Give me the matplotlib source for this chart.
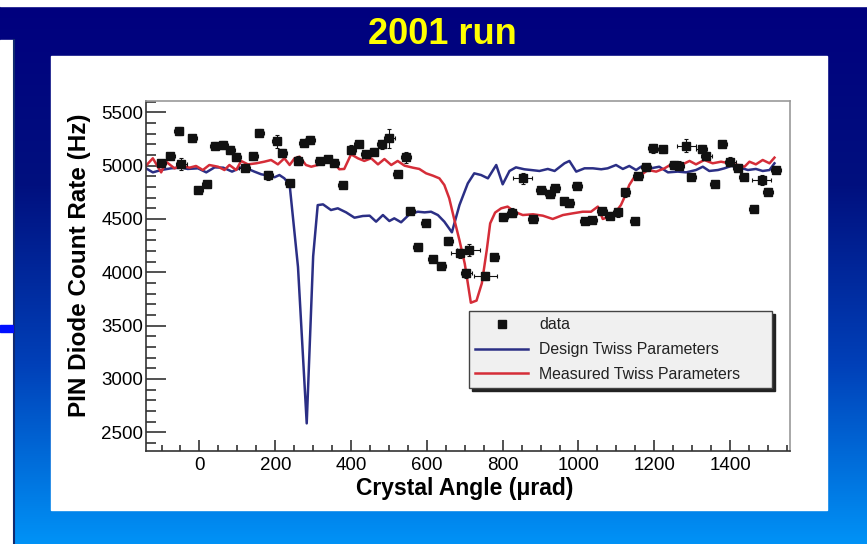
import matplotlib
matplotlib.use("Agg")
import matplotlib.pyplot as plt
import numpy as np
from matplotlib.colors import LinearSegmentedColormap
from matplotlib.lines import Line2D
from matplotlib.patches import Rectangle
from matplotlib.ticker import MultipleLocator

plt.rcParams['font.family'] = ['Liberation Sans', 'DejaVu Sans']

# PIN diode scan, 2001 run
angle = [-101, -77, -55, -48, -19, -3, 19, 40, 63, 81, 97, 119, 142, 158, 181, 204,
         218, 238, 261, 275, 292, 317, 339, 356, 378, 400, 420, 439, 460, 481, 501,
         523, 545, 556, 576, 597, 616, 638, 657, 688, 704, 710, 754, 778, 801, 825,
         853, 880, 901, 925, 938, 963, 976, 996, 1016, 1036, 1062, 1082, 1104, 1124,
         1148, 1157, 1178, 1196, 1222, 1253, 1264, 1284, 1297, 1325, 1337, 1360, 1379,
         1401, 1420, 1436, 1462, 1484, 1500, 1521]
rate = [5022, 5093, 5325, 5015, 5256, 4772, 4825, 5187, 5193, 5147, 5081, 4981, 5087,
        5309, 4909, 5228, 5118, 4834, 5046, 5215, 5240, 5046, 5062, 5028, 4818, 5150,
        5200, 5106, 5131, 5200, 5256, 4922, 5078, 4575, 4234, 4467, 4125, 4059, 4295,
        4178, 3991, 4209, 3965, 4141, 4514, 4560, 4881, 4500, 4772, 4734, 4787, 4671,
        4647, 4812, 4481, 4490, 4575, 4531, 4562, 4750, 4481, 4903, 4984, 5162, 5153,
        5006, 5000, 5187, 4897, 5156, 5090, 4828, 5203, 5037, 4981, 4891, 4591, 4865,
        4756, 4959]
angle_err = [12, 12, 12, 14, 12, 12, 12, 12, 12, 12, 12, 14, 12, 12, 12, 12,
             12, 12, 12, 12, 14, 12, 12, 12, 12, 12, 12, 14, 12, 12, 14,
             12, 12, 12, 12, 12, 12, 12, 12, 25, 15, 30, 30, 12, 12, 14,
             25, 12, 12, 14, 12, 12, 12, 12, 12, 12, 12, 12, 12, 12,
             12, 12, 12, 12, 12, 14, 14, 25, 12, 14, 14, 12, 12,
             14, 12, 12, 12, 25, 12, 12]
rate_err = [30, 30, 40, 60, 30, 30, 30, 35, 35, 35, 35, 30, 30, 35, 40, 60,
            40, 35, 40, 30, 40, 30, 30, 30, 30, 40, 35, 35, 30, 40, 90,
            30, 50, 30, 30, 30, 30, 30, 40, 40, 40, 60, 40, 30, 30, 40,
            50, 30, 30, 35, 30, 30, 30, 30, 30, 30, 30, 30, 40, 40,
            30, 30, 30, 40, 35, 40, 40, 60, 30, 40, 40, 30, 30,
            40, 30, 30, 30, 50, 30, 30]

# simulated count rate for design and measured Twiss parameters
design_angle = [-141, -123, -101, -75, -48, -31, -4, 18, 40, 63, 86, 114, 145, 163, 183,
                198, 211, 224, 238, 260, 283, 300, 312, 326, 347, 365, 387, 409, 431,
                449, 466, 484, 501, 514, 532, 554, 576, 594, 611, 629, 646, 666, 686,
                708, 725, 743, 761, 783, 800, 818, 835, 857, 875, 897, 919, 937, 963,
                976, 994, 1016, 1038, 1060, 1077, 1099, 1117, 1134, 1152, 1165, 1191,
                1213, 1236, 1262, 1284, 1310, 1328, 1345, 1368, 1385, 1403, 1424, 1447,
                1468, 1486, 1504, 1517]
design_rate = [4975, 4937, 4959, 4975, 4981, 4969, 4975, 4937, 4984, 4981, 4944, 4990,
               4944, 4919, 4906, 4891, 4912, 4881, 4819, 4050, 2584, 4150, 4630, 4637,
               4584, 4600, 4562, 4512, 4528, 4531, 4475, 4537, 4481, 4506, 4469, 4544,
               4568, 4562, 4568, 4537, 4475, 4375, 4631, 4834, 4928, 4912, 4881, 5006,
               4825, 4950, 4984, 4966, 4959, 4950, 4969, 4950, 5022, 5044, 4944, 4975,
               4975, 4966, 4975, 5006, 4969, 4997, 4959, 4990, 4975, 4990, 4937, 4944,
               4937, 4959, 4990, 4950, 4959, 4975, 4997, 4984, 4959, 4969, 4950, 4959,
               5022]
measured_angle = [-141, -123, -101, -88, -66, -48, -26, -9, 9, 26, 49, 66, 79, 97, 110,
                  128, 150, 171, 189, 207, 224, 238, 251, 264, 281, 295, 312, 334, 352,
                  369, 382, 400, 418, 435, 453, 471, 488, 506, 523, 541, 563, 580, 598,
                  616, 633, 646, 659, 672, 686, 700, 716, 731, 745, 758, 767, 780, 796,
                  813, 831, 853, 880, 906, 932, 959, 985, 1011, 1033, 1051, 1064, 1082,
                  1099, 1112, 1124, 1134, 1148, 1165, 1183, 1205, 1227, 1249, 1271, 1293,
                  1310, 1332, 1354, 1376, 1398, 1420, 1438, 1451, 1468, 1486, 1504, 1517]
measured_rate = [5000, 5069, 4937, 5037, 4975, 5000, 4981, 4997, 4959, 5006, 4990, 4959,
                 5006, 4959, 5044, 5012, 5022, 5037, 5053, 5012, 5069, 5006, 5069, 5084,
                 5006, 4990, 5006, 5031, 5044, 4966, 4969, 5106, 5069, 5044, 5069, 5012,
                 5062, 5006, 5044, 5000, 4981, 4969, 4928, 4906, 4881, 4819, 4694, 4500,
                 4300, 4080, 3715, 3735, 3897, 4209, 4459, 4560, 4600, 4616, 4568, 4537,
                 4544, 4531, 4500, 4537, 4553, 4568, 4568, 4616, 4500, 4522, 4568, 4631,
                 4725, 4819, 4897, 4912, 4959, 4944, 4975, 5022, 5006, 5044, 5012, 5053,
                 5022, 5037, 5022, 5006, 4990, 5037, 5012, 5053, 5022, 5075]

W, H = 867, 544
fig = plt.figure(figsize=(W / 100, H / 100), dpi=100)

# slide background, drawn in pixel units
bg = fig.add_axes([0, 0, 1, 1])
bg.set_xlim(0, W)
bg.set_ylim(H, 0)
bg.axis('off')
cmap = LinearSegmentedColormap.from_list('slide', ['#00007e', '#00107f', '#0040b8', '#0092f6'])
grad = np.linspace(0, 1, 256).reshape(-1, 1)
bg.imshow(grad, cmap=cmap, extent=[0, W, H, 6], aspect='auto', zorder=0)
bg.add_patch(Rectangle((0, 0), W, 6, color='white', zorder=1))
bg.add_patch(Rectangle((0, 40), 13, H - 40, color='white', zorder=1))
bg.plot([14, 14], [40, H], color='#102a70', lw=1.5, zorder=2)
bg.add_patch(Rectangle((0, 325), 13, 7, color='#0010ff', zorder=2))
bg.add_patch(Rectangle((51, 56), 776, 454, color='white', zorder=1))
bg.text(442, 34, '2001 run', color='#ffff00', fontsize=26, fontweight='bold',
        ha='center', va='center')

ax = fig.add_axes([146 / W, 93 / H, 644 / W, 350 / H])
ax.set_xlim(-141, 1558)
ax.set_ylim(2325, 5606)

design_line, = ax.plot(design_angle, design_rate, color='#2b2f85', lw=1.8, zorder=2)
measured_line, = ax.plot(measured_angle, measured_rate, color='#d52d38', lw=1.8, zorder=2)
ax.errorbar(angle, rate, xerr=angle_err, yerr=rate_err, fmt='s', color='#111111',
            ms=6, elinewidth=0.8, capsize=1.5, capthick=0.8, zorder=3)

ax.xaxis.set_major_locator(MultipleLocator(200))
ax.xaxis.set_minor_locator(MultipleLocator(50))
ax.yaxis.set_major_locator(MultipleLocator(500))
ax.yaxis.set_minor_locator(MultipleLocator(100))
ax.tick_params(which='both', direction='in', top=False, right=False,
               labelsize=13.5, color='#222222', width=1.1)
ax.tick_params(axis='y', which='major', length=14.4, pad=2)
ax.tick_params(axis='y', which='minor', length=7.2)
ax.tick_params(axis='x', which='major', length=8, pad=4)
ax.tick_params(axis='x', which='minor', length=4.3)
for side in ('left', 'bottom'):
    ax.spines[side].set_color('#333333')
    ax.spines[side].set_linewidth(1.2)
for side in ('top', 'right'):
    ax.spines[side].set_color('#999999')
    ax.spines[side].set_linewidth(1.2)

ax.set_xlabel('Crystal Angle (μrad)', fontsize=16.5, fontweight='bold')
ax.xaxis.set_label_coords(0.495, -0.075)
ax.set_ylabel('PIN Diode Count Rate (Hz)', fontsize=17.5, fontweight='bold')
ax.yaxis.set_label_coords(-0.086, 0.531)

data_handle = Line2D([], [], marker='s', ls='none', color='#111111', ms=5.5)
leg = ax.legend([data_handle, design_line, measured_line],
                ['data', 'Design Twiss Parameters', 'Measured Twiss Parameters'],
                loc='upper left', bbox_to_anchor=(0.5016, 0.19, 0.4705, 0.21),
                mode='expand', fontsize=11.4, fancybox=False,
                shadow={'color': '#222222', 'alpha': 1}, facecolor='#f0f0f0',
                edgecolor='#444444', framealpha=1, borderaxespad=0,
                handlelength=3.35, handletextpad=0.7, labelspacing=0.62, borderpad=0.4)
for t in leg.get_texts():
    t.set_color('#222222')

fig.savefig('out.png', dpi=100)
